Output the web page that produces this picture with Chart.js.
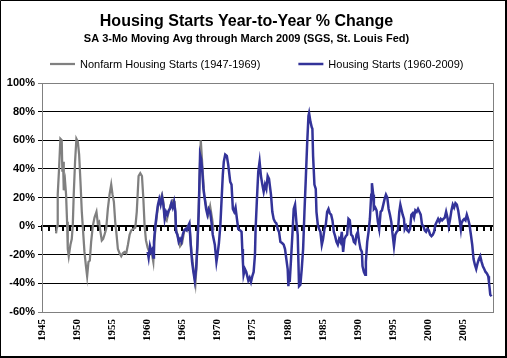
<!DOCTYPE html>
<html><head><meta charset="utf-8">
<script src="https://cdn.jsdelivr.net/npm/chart.js@4.4.1/dist/chart.umd.min.js"></script>
<style>html,body{margin:0;padding:0;background:#fff}canvas{display:block}</style>
</head><body>
<canvas id="c" width="507" height="358"></canvas>
<script>
// ---- data ----
const nonfarmYears = [1947.0,1947.14,1947.24,1947.43,1947.62,1947.81,1947.9,1948.0,1948.1,1948.29,1948.43,1948.57,1948.67,1948.81,1949.05,1949.24,1949.38,1949.52,1949.71,1949.9,1950.1,1950.29,1950.48,1950.67,1950.86,1951.05,1951.24,1951.43,1951.62,1951.81,1952.0,1952.24,1952.48,1952.76,1952.95,1953.14,1953.33,1953.52,1953.71,1953.9,1954.14,1954.38,1954.62,1954.86,1955.05,1955.24,1955.43,1955.62,1955.81,1956.05,1956.29,1956.52,1956.76,1957.0,1957.24,1957.48,1957.71,1958.0,1958.29,1958.5,1958.76,1959.0,1959.24,1959.43,1959.62,1959.81,1960.05,1960.29,1960.57,1960.86,1961.05,1961.24,1961.52,1961.81,1962.1,1962.29,1962.48,1962.76,1963.05,1963.33,1963.62,1963.9,1964.1,1964.38,1964.67,1964.95,1965.24,1965.52,1965.81,1966.0,1966.29,1966.57,1966.86,1967.05,1967.24,1967.43,1967.62,1967.81,1968.1,1968.38,1968.67,1968.95,1969.24,1969.43];
const nonfarmValues = [-5,0,22,40,61,60,38,45,25,31,22,3,-16,-21,-13,-9,0,22,45,61,59,50,31,10,-4,-18,-27,-35,-25,-24,-11,0,6,10,2,3,-4,-10,-9,-6,-2,12,22,29,22,17,3,-6,-16,-19,-21,-19,-18,-19,-13,-6,-3,-2,-1,10,35,37,35,20,0,-10,-15,-18,-17,-25,-8,2,14,18,22,17,6,4,10,15,18,17,-2,-8,-14,-12,-4,-2,0,1,-18,-30,-40,-25,0,30,60,45,22,14,8,14,5,-3];

const startsYears = [1960.05,1960.19,1960.38,1960.57,1960.76,1960.86,1960.95,1961.14,1961.33,1961.52,1961.71,1961.9,1962.1,1962.29,1962.48,1962.67,1962.86,1963.05,1963.24,1963.43,1963.62,1963.81,1964.0,1964.1,1964.29,1964.48,1964.67,1964.86,1965.05,1965.24,1965.43,1965.62,1965.81,1966.0,1966.19,1966.38,1966.57,1966.76,1966.95,1967.14,1967.33,1967.52,1967.67,1967.81,1968.0,1968.19,1968.38,1968.57,1968.76,1968.95,1969.14,1969.33,1969.62,1969.85,1970.0,1970.2,1970.4,1970.6,1970.76,1970.9,1971.1,1971.33,1971.53,1971.81,1972.0,1972.19,1972.38,1972.57,1972.77,1972.96,1973.24,1973.43,1973.53,1973.62,1973.72,1973.91,1974.1,1974.39,1974.58,1974.77,1974.96,1975.15,1975.34,1975.43,1975.62,1975.81,1976.0,1976.19,1976.39,1976.58,1976.77,1976.96,1977.15,1977.34,1977.62,1977.81,1978.0,1978.19,1978.39,1978.58,1978.77,1978.96,1979.24,1979.43,1979.62,1979.81,1980.0,1980.1,1980.2,1980.29,1980.48,1980.67,1980.86,1981.05,1981.24,1981.43,1981.53,1981.62,1981.81,1982.0,1982.2,1982.39,1982.58,1982.77,1982.96,1983.05,1983.24,1983.43,1983.52,1983.62,1983.81,1984.0,1984.1,1984.29,1984.48,1984.66,1984.86,1985.04,1985.24,1985.43,1985.62,1985.81,1986.0,1986.19,1986.38,1986.57,1986.76,1986.95,1987.14,1987.33,1987.52,1987.71,1987.9,1988.09,1988.28,1988.47,1988.66,1988.85,1989.04,1989.24,1989.43,1989.62,1989.81,1990.0,1990.19,1990.38,1990.57,1990.66,1990.85,1991.04,1991.14,1991.33,1991.52,1991.71,1991.9,1992.0,1992.19,1992.28,1992.47,1992.66,1992.85,1993.04,1993.24,1993.43,1993.62,1993.81,1994.0,1994.19,1994.38,1994.57,1994.76,1994.95,1995.14,1995.33,1995.52,1995.71,1995.9,1996.05,1996.19,1996.38,1996.57,1996.67,1996.86,1997.05,1997.24,1997.43,1997.62,1997.81,1998.0,1998.19,1998.38,1998.57,1998.76,1998.95,1999.14,1999.33,1999.52,1999.71,1999.9,2000.1,2000.29,2000.48,2000.67,2000.86,2001.05,2001.24,2001.43,2001.62,2001.81,2002.0,2002.19,2002.38,2002.57,2002.76,2002.95,2003.14,2003.33,2003.52,2003.71,2003.9,2004.1,2004.29,2004.48,2004.67,2004.76,2004.95,2005.14,2005.33,2005.52,2005.71,2005.9,2006.1,2006.29,2006.48,2006.67,2006.86,2007.05,2007.24,2007.43,2007.62,2007.81,2008.0,2008.19,2008.38,2008.57,2008.67,2008.76,2008.86,2009.05];
const startsValues = [-18,-22,-14,-18,-16,-22,-11,0,8,15,19,15,20,15,5,10,8,11,12,16,13,17,10,-4,-6,-11,-9,-11,-6,-3,-2,-3,0,2,-13,-25,-32,-38,-30,-13,10,50,47,40,26,19,12,8,12,10,3,-6,-13,-25,-20,-12,0,20,36,45,50,49,43,31,29,12,10,13,5,-2,-3,-4,-16,-25,-34,-30,-32,-38,-36,-39,-35,-32,-20,-2,19,38,45,35,29,24,29,26,35,33,22,10,5,3,2,-2,-4,-11,-12,-13,-16,-23,-30,-42,-32,-39,-23,-6,12,15,3,-6,-25,-42,-41,-30,-16,10,33,57,77,79,73,69,68,49,29,26,10,1,-2,-4,-13,-9,-2,1,10,12,9,8,4,-4,-7,-11,-13,-9,-11,-4,-18,-9,-7,-6,5,4,-6,-7,-11,-12,-6,-4,-11,-16,-18,-28,-32,-34,-25,-11,-4,5,22,30,22,12,13,11,3,-2,10,11,15,19,22,20,12,8,3,-6,-14,-6,-4,-3,10,15,12,8,5,-2,0,-3,-4,-2,8,9,6,11,10,12,10,8,1,0,-3,-4,-2,-3,-6,-7,-6,-4,1,3,5,3,5,4,5,6,10,6,0,5,11,15,13,16,15,11,5,-2,2,4,5,4,8,5,1,-6,-13,-23,-27,-30,-26,-23,-21,-25,-28,-30,-32,-33,-35,-39,-43,-48,-49];

const yTickValues = [-60,-40,-20,0,20,40,60,80,100];
const xTickYears = [1945,1950,1955,1960,1965,1970,1975,1980,1985,1990,1995,2000,2005];

const titleText = 'Housing Starts Year-to-Year % Change';
const subtitleText = 'SA 3-Mo Moving Avg through March 2009 (SGS, St. Louis Fed)';
const seriesLabels = ['Nonfarm Housing Starts (1947-1969)', 'Housing Starts (1960-2009)'];

const FONT = '"Liberation Sans", Arial, sans-serif';
const SERIF = '"Liberation Serif", "Times New Roman", serif';
const toPoints = (xs, ys) => xs.map((x, i) => ({x: x, y: ys[i]}));

const framePlugin = {
  id: 'frame',
  beforeDraw(chart) {
    const c = chart.ctx; c.save(); c.fillStyle = '#fff'; c.fillRect(0, 0, chart.width, chart.height); c.restore();
  },
  beforeDatasetsDraw(chart) {
    const c = chart.ctx, a = chart.chartArea; c.save();
    c.strokeStyle = '#808080'; c.lineWidth = 1;
    const xr = Math.round(a.right) + 0.5;
    c.beginPath(); c.moveTo(xr, a.top); c.lineTo(xr, a.bottom); c.stroke();
    c.restore();
  },
  afterDraw(chart) {
    const c = chart.ctx; c.save();
    c.strokeStyle = '#000'; c.lineWidth = 1;
    c.beginPath(); c.moveTo(0.5, 357); c.lineTo(0.5, 0.5); c.lineTo(505, 0.5); c.stroke();
    c.lineWidth = 2;
    c.beginPath(); c.moveTo(506, 0); c.lineTo(506, 358); c.moveTo(0, 357); c.lineTo(507, 357); c.stroke();
    c.restore();
  }
};

const lineLegend = {
  id: 'lineLegend',
  afterDraw(chart) {
    const c = chart.ctx; const y = 64, lineLen = 25, gap = 5, itemGap = 38;
    c.save(); c.font = '11px ' + FONT; c.textBaseline = 'middle'; c.textAlign = 'left';
    const items = chart.data.datasets.map(d => ({text: d.label, color: d.borderColor, lw: d.borderWidth, w: c.measureText(d.label).width}));
    const total = items.reduce((s, it) => s + lineLen + gap + it.w, 0) + itemGap * (items.length - 1);
    let x = Math.round(chart.width / 2 + 3 - total / 2);
    items.forEach(it => {
      c.strokeStyle = it.color; c.lineWidth = it.lw;
      c.beginPath(); c.moveTo(x, y); c.lineTo(x + lineLen, y); c.stroke();
      c.fillStyle = '#000'; c.fillText(it.text, x + lineLen + gap, y + 1);
      x += lineLen + gap + it.w + itemGap;
    });
    c.restore();
  }
};

new Chart(document.getElementById('c'), {
  type: 'line',
  data: {
    datasets: [
      {label: seriesLabels[0], data: toPoints(nonfarmYears, nonfarmValues), borderColor: '#808080', backgroundColor: '#808080', borderWidth: 2.25, pointRadius: 0, tension: 0, order: 2, xAxisID: 'x', yAxisID: 'y'},
      {label: seriesLabels[1], data: toPoints(startsYears, startsValues), borderColor: '#333399', backgroundColor: '#333399', borderWidth: 2.5, pointRadius: 0, tension: 0, order: 1, xAxisID: 'x', yAxisID: 'y'}
    ]
  },
  options: {
    responsive: false, animation: false, devicePixelRatio: 1,
    layout: {padding: {left: 0, right: 14, top: 0, bottom: 0}},
    plugins: {
      legend: {display: false},
      tooltip: {enabled: false},
      title: {display: true, text: titleText, color: '#000', font: {family: FONT, size: 16, weight: 'bold'}, padding: {top: 12, bottom: 0}},
      subtitle: {display: true, text: subtitleText, color: '#000', font: {family: FONT, size: 11, weight: 'bold'}, padding: {top: 1, bottom: 37.6}}
    },
    scales: {
      x: {
        type: 'linear', axis: 'x', position: 'bottom', min: 1945, max: 2009.25,
        afterBuildTicks: s => { s.ticks = xTickYears.map(v => ({value: v})); },
        afterFit: s => { s.height = 46; },
        ticks: {minRotation: 90, maxRotation: 90, autoSkip: false, padding: 7, color: '#000', font: {family: SERIF, size: 11, weight: 'bold'}, callback: v => String(v)},
        grid: {display: false, drawTicks: false},
        border: {display: true, color: '#808080', width: 1}
      },
      zero: {
        type: 'linear', axis: 'x', position: {y: 0}, min: 1945, max: 2009.25,
        ticks: {display: false, stepSize: 1, autoSkip: false, includeBounds: false},
        grid: {drawOnChartArea: false, drawTicks: true, tickLength: 4, color: '#000', lineWidth: 2},
        border: {display: true, color: '#000', width: 2}
      },
      y: {
        type: 'linear', axis: 'y', position: 'left', min: -60, max: 100,
        afterBuildTicks: s => { s.ticks = yTickValues.map(v => ({value: v})); },
        afterFit: s => { s.width = 42; },
        ticks: {padding: 3, color: '#000', font: {family: FONT, size: 11, weight: 'bold'}, callback: v => v + '%'},
        grid: {
          color: ctx => (ctx.tick && (ctx.tick.value === 100 || ctx.tick.value === -60)) ? '#808080' : '#000',
          lineWidth: 1, tickLength: 4, drawTicks: true
        },
        border: {display: true, color: '#808080', width: 1}
      }
    }
  },
  plugins: [framePlugin, lineLegend]
});
</script>
</body></html>
